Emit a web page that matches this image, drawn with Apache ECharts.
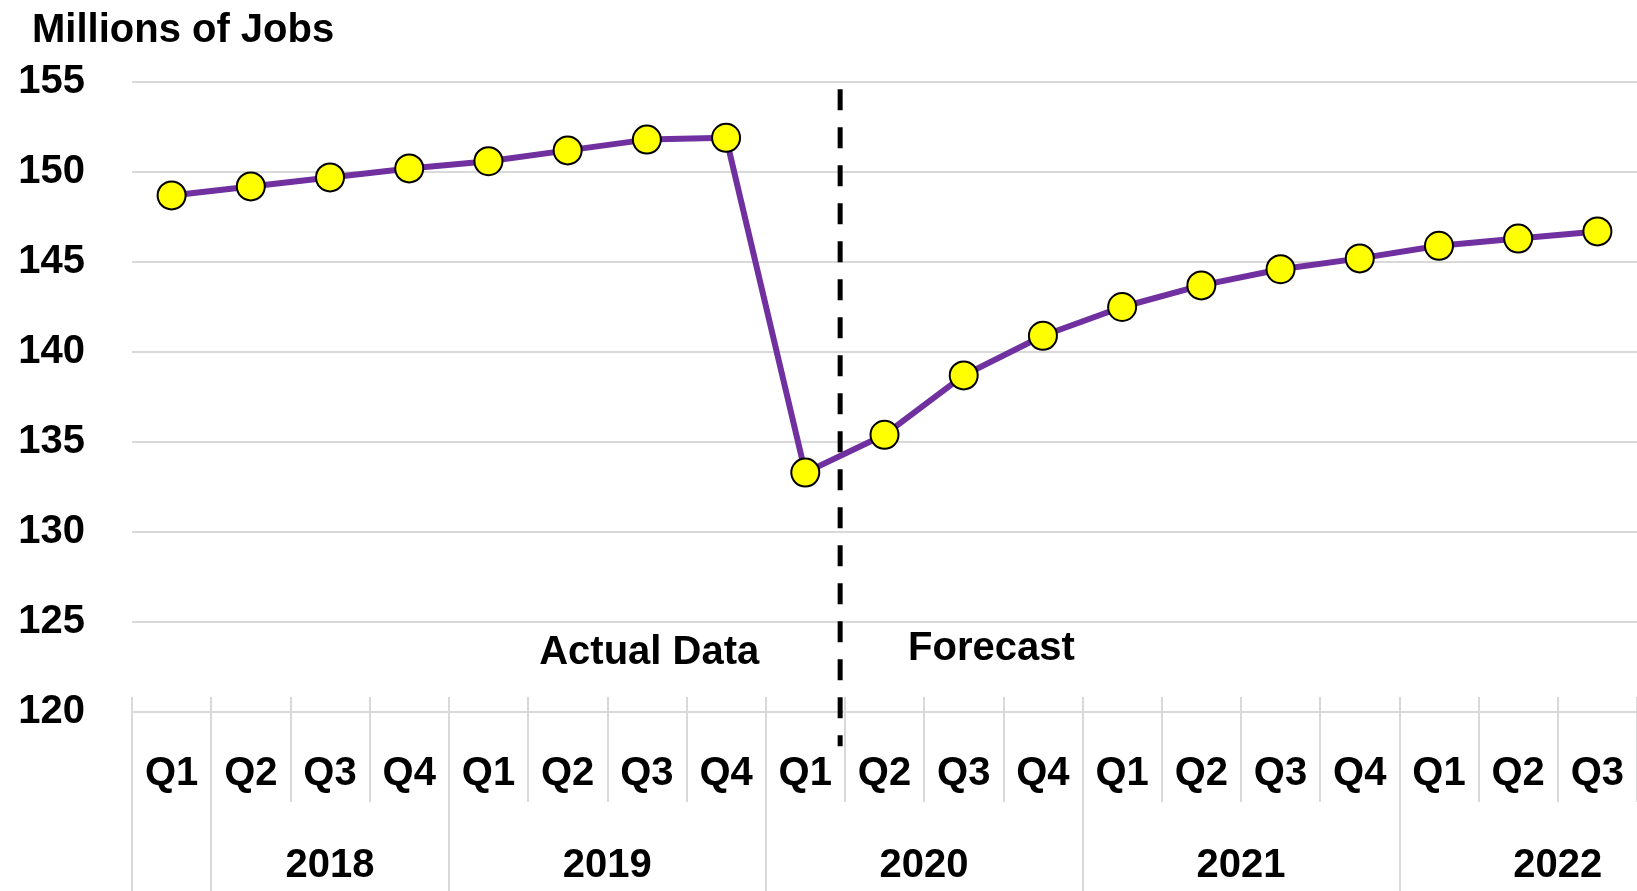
<!DOCTYPE html>
<html>
<head>
<meta charset="utf-8">
<title>Millions of Jobs</title>
<script src="https://cdn.jsdelivr.net/npm/echarts@6/dist/echarts.min.js"></script>
<style>
	html, body { margin: 0; padding: 0; background: #fff; }
	#jobs_chart { width: 1637px; height: 891px; }
</style>
</head>
<body>
<div id="jobs_chart"></div>
<script>
// quarter labels, one per point
var quarters = ['Q1', 'Q2', 'Q3', 'Q4', 'Q1', 'Q2', 'Q3', 'Q4', 'Q1', 'Q2',
	'Q3', 'Q4', 'Q1', 'Q2', 'Q3', 'Q4', 'Q1', 'Q2', 'Q3'];
// total jobs, millions
var jobs = [148.7, 149.2, 149.7, 150.2, 150.6, 151.2, 151.8, 151.9, 133.3, 135.4,
	138.7, 140.9, 142.5, 143.7, 144.6, 145.2, 145.9, 146.3, 146.7];
// year groups on the second axis row (start / end category index)
var years = ['2018', '2019', '2020', '2021', '2022'];
var yearStart = [1, 4, 8, 12, 16];
var yearEnd = [4, 8, 12, 16, 20];
// y axis
var yMin = 120, yMax = 155, yStep = 5;
// actual / forecast divider (x in category units, y span in millions)
var forecastAt = 8.94;
var dividerSpan = [154.6, 118.1];
var noteText = ['Actual Data', 'Forecast'];
var noteAt = [[6.53, 123.3], [10.85, 123.5]];

var FONT = 'Liberation Sans';

var jobs_chart = {
	init : function(){
		var myChart = echarts.init(document.getElementById('jobs_chart'));
		myChart.setOption(jobs_chart.get_option());
	},

	/**
	 * centre of each year group, in category units
	 */
	year_centers : function(){
		var c = [];
		for (var i = 0; i < years.length; i++) {
			c.push((yearStart[i] + yearEnd[i]) / 2);
		}
		return c;
	},

	get_option : function(){
		var centers = jobs_chart.year_centers();
		var gray = {color: '#d9d9d9', width: 2};
		var txt = {fontFamily: FONT, fontSize: 40, fontWeight: 'bold', color: '#000'};
		var notes = [];
		for (var i = 0; i < noteText.length; i++) {
			notes.push({name: noteText[i], coord: noteAt[i]});
		}
		return {
			animation : false,
			backgroundColor : '#fff',
			title : {
				text : 'Millions of Jobs',
				left : 27,
				top : 6,
				textStyle : txt
			},
			grid : {left: 132, right: 0, top: 82, bottom: 179},
			xAxis : [
				{
					type : 'category',
					data : quarters,
					position : 'bottom',
					offset : -15,
					boundaryGap : true,
					axisLine : {show: false},
					axisTick : {show: true, interval: 0, length: 105, lineStyle: gray},
					axisLabel : Object.assign({interval: 0, margin: 57}, txt),
					splitLine : {show: false}
				},
				{
					type : 'value',
					min : 0,
					max : quarters.length,
					position : 'bottom',
					offset : -15,
					axisLine : {show: false},
					splitLine : {show: false},
					axisTick : {show: true, customValues: [0].concat(yearStart), length: 200, lineStyle: gray},
					axisLabel : Object.assign({
						customValues : centers,
						margin : 149,
						formatter : function(v){
							var k = centers.indexOf(v);
							return k < 0 ? '' : years[k];
						}
					}, txt)
				}
			],
			yAxis : {
				type : 'value',
				min : yMin,
				max : yMax,
				interval : yStep,
				axisLine : {show: false},
				axisTick : {show: false},
				splitLine : {show: true, lineStyle: gray},
				axisLabel : Object.assign({margin: 47}, txt)
			},
			series : [
				{
					type : 'line',
					xAxisIndex : 0,
					data : jobs,
					symbol : 'circle',
					symbolSize : 28,
					lineStyle : {color: '#7030a0', width: 6},
					itemStyle : {color: '#ffff00', borderColor: '#000', borderWidth: 2},
					emphasis : {disabled: true},
					z : 3
				},
				{
					// dashed divider between actual data and forecast
					type : 'line',
					xAxisIndex : 1,
					data : [[forecastAt, dividerSpan[0]], [forecastAt, dividerSpan[1]]],
					symbol : 'none',
					clip : false,
					silent : true,
					lineStyle : {color: '#000', width: 5, type: [21, 17]},
					emphasis : {disabled: true},
					z : 2,
					markPoint : {
						symbol : 'circle',
						symbolSize : 0,
						silent : true,
						label : Object.assign({show: true, position: 'inside', formatter: '{b}'}, txt),
						data : notes
					}
				}
			]
		};
	}
};

jobs_chart.init();
</script>
</body>
</html>
